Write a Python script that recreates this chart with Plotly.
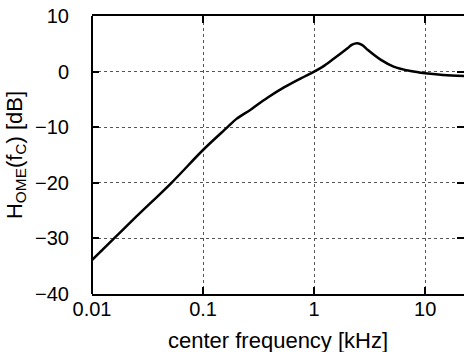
import plotly.graph_objects as go

freq_khz = [0.01, 0.0158, 0.025, 0.052, 0.1, 0.166, 0.2, 0.27, 0.38, 0.54, 0.76,
            1.0, 1.2, 1.5, 2.0, 2.2, 2.45, 2.7, 3.0, 4.0, 5.2, 7.4, 10.0, 14.5, 22.4]
h_ome_db = [-33.9, -30.0, -26.1, -20.0, -14.1, -10.0, -8.5, -6.8, -4.7, -2.8, -1.2,
            0.0, 0.9, 2.3, 4.2, 4.85, 5.1, 4.8, 4.0, 2.1, 0.9, 0.1, -0.3, -0.6, -0.8]

x_ticks = [0.01, 0.1, 1, 10]
x_tick_labels = ["0.01", "0.1", "1", "10"]
y_ticks = [-40, -30, -20, -10, 0, 10]
x_title = "center frequency [kHz]"
y_title = "H<sub>OME</sub>(f<sub>C</sub>) [dB]"

font_family = "Liberation Sans, Arial, sans-serif"

fig = go.Figure()
fig.add_trace(go.Scatter(
    x=freq_khz, y=h_ome_db, mode="lines",
    line=dict(color="black", width=2.5, shape="spline", smoothing=1.0),
    showlegend=False, hoverinfo="skip",
))

fig.update_layout(
    width=464, height=352,
    margin=dict(l=92, r=0, t=16, b=58),
    paper_bgcolor="white", plot_bgcolor="white",
    font=dict(family=font_family, color="black", size=20),
    xaxis=dict(
        type="log", range=[-2, 1.35], automargin=False,
        tickvals=x_ticks, ticktext=x_tick_labels,
        ticks="inside", ticklen=7, tickwidth=2, tickcolor="black",
        showline=True, linecolor="black", linewidth=2, mirror="ticks",
        showgrid=True, gridcolor="#555555", gridwidth=1, griddash="dot",
        zeroline=False, ticklabelstandoff=-4,
        tickfont=dict(size=20),
    ),
    yaxis=dict(
        range=[-40, 10], tickvals=y_ticks, automargin=False,
        ticks="inside", ticklen=7, tickwidth=2, tickcolor="black",
        showline=False, mirror="ticks",
        showgrid=True, gridcolor="#555555", gridwidth=1, griddash="dot",
        zeroline=False, ticklabelstandoff=22,
        tickfont=dict(size=20),
        title=dict(text=y_title, font=dict(size=22), standoff=6),
    ),
    annotations=[dict(text=x_title, xref="paper", yref="paper", x=0.5, y=0,
                      xanchor="center", yanchor="top", yshift=-32, showarrow=False,
                      font=dict(size=22))],
    shapes=[dict(type="line", xref="paper", yref="paper", x0=0, x1=0, y0=0, y1=1,
                 line=dict(color="black", width=2), layer="above")],
)

fig.write_html("out.html", config={"displayModeBar": False},
               post_script="document.body.style.margin='0px';")
